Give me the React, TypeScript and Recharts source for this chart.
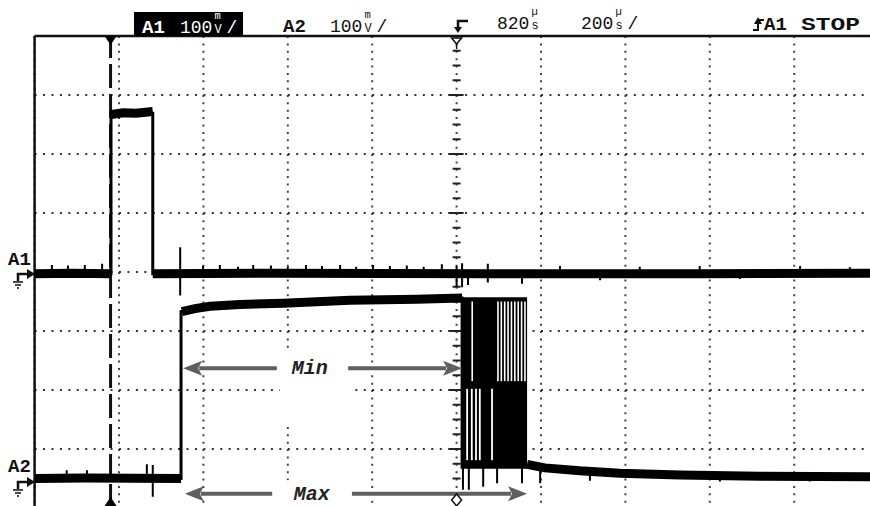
import React from 'react';
import {
  ComposedChart, Line, XAxis, YAxis, CartesianGrid,
  ReferenceLine, ReferenceArea, ReferenceDot, Scatter,
} from 'recharts';

type Pt = [number, number] | null;
type Spike = [number, number, number];

// x: time in µs from the trigger point (200 µs/div); y: mV (100 mV/div)
const X_DOMAIN = [-180, 1820];
const A1_DOMAIN = [-400, 400];
const A2_DOMAIN = [-50, 750];
const GRID_T = [20, 220, 420, 620, 820, 1020, 1220, 1420, 1620];
const GRID_V = [-300, -200, -100, 0, 100, 200, 300];
const TRIGGER_T = 0;
const CENTER_T = 820;
const CENTER_TICKS_V = [-375, -350, -325, -300, -275, -250, -225, -200, -175, -150, -125, -100, -75, -50, -25, 0, 25, 50, 75, 100, 125, 150, 175, 200, 225, 250, 275, 300, 325, 350, 375];

// Channel A1
const A1_TRACE: Pt[] = [[-180, -3], [1, -3], [1, 269], [100, 269], [100, -3], [1820, -3]];
const A1_BAND: Pt[] = [[-180, -3], [-90, -2], [1, -3], null, [1, 267], [30, 270], [60, 269], [100, 272], null, [100, -3], [400, -2], [900, -3], [1400, -3], [1820, -2]];
const A1_SPIKES: Spike[] = [
  [-139, -3, 12], [-101, -3, 11], [-61, -3, 12], [-20, -3, 14],
  [165, -40, 42],
  [219, -3, 10], [259, -3, 12], [302, -3, 9], [338, -3, 12], [380, -3, 11], [420, -3, 9], [463, -3, 12], [501, -3, 10],
  [544, -3, 12], [582, -3, 9], [622, -3, 12], [662, -3, 10], [702, -3, 11], [742, -3, 9], [785, -3, 13],
  [820, -25, 10], [833, -26, 15], [847, -22, -3], [894, -18, 14], [975, -20, -3],
  [1065, -3, 10], [1160, -14, -3], [1254, -3, 9], [1396, -3, 10], [1491, -12, -3], [1634, -3, 10], [1752, -3, 8],
];

// Channel A2
const A2_TRACE: Pt[] = [[-180, 0], [167, 0], [167, 283], [236, 292], [307, 295], [409, 297], [567, 302], [726, 304], [833, 306], [833, 19], [987, 19], [987, 23], [1029, 18], [1112, 13], [1207, 9], [1349, 6], [1539, 4], [1820, 3]];
const A2_BAND: Pt[] = [[-180, 0], [-60, 1], [167, 0], null, [169, 283], [200, 288], [236, 292], [307, 295], [409, 297], [567, 302], [726, 304], [833, 306], null, [987, 24], [1029, 18], [1112, 13], [1207, 9], [1349, 6], [1539, 4], [1820, 3]];
const A2_SPIKES: Spike[] = [
  [-104, 0, 14], [-56, 0, 14], [86, 0, 24], [100, -31, 23],
  [835, -19, 19], [849, -19, 19], [883, -14, 19], [916, -8, 19],
  [975, -8, 20], [1018, -8, 18], [1136, -4, 13], [1444, -5, 6], [1657, -5, 4],
];

// Burst on A2
const BURST_T = [833, 987];
const BURST_V = [19, 307];
const BURST_UPPER_V = [165, 300];
const BURST_UPPER_GAPS_T = [857, 918, 926, 934, 942, 950, 958, 966, 974, 982];
const BURST_LOWER_V = [31, 152];
const BURST_LOWER_GAPS_T = [845, 856, 866, 875, 904];

// Annotations (A2 scale)
const MIN_ARROW_T = [172, 394, 563, 833];
const MIN_ARROW_V = 187;
const MAX_ARROW_T = [176, 383, 572, 987];
const MAX_ARROW_V = -26;
const LABEL_T = 472;
const LABEL_BOX_T = [401, 574];
const MIN_BOX_V = [89, 214];
const MAX_BOX_V = [-49, -3];

const MONO = '"Liberation Mono", "DejaVu Sans Mono", monospace';
const ARROW_GRAY = '#5f5f5f';

const rows = (pts: Pt[]) => {
  let lastT = 0;
  return pts.map((p) => {
    if (p) { lastT = p[0]; return { t: p[0], v: p[1] }; }
    return { t: lastT, v: null };
  });
};
const spikeRows = (sp: Spike[]) => sp.flatMap(([t, lo, hi]) => [{ t, v: lo }, { t, v: hi }, { t, v: null }]);
const centerTicks = CENTER_TICKS_V.map((v) => ({ t: CENTER_T, v }));

const Arrow = (p: any) => {
  const { x1, y1, x2, y2 } = p;
  const dir = Math.sign(x2 - x1) || 1;
  const hl = 19;
  const hw = 7.5;
  const bx = x2 - dir * hl;
  return (
    <g>
      <line x1={x1} y1={y1} x2={bx + dir * 3} y2={y2} stroke={ARROW_GRAY} strokeWidth={4} />
      <path d={`M${x2},${y2} L${bx},${y2 - hw} L${bx + dir * 4},${y2} L${bx},${y2 + hw} Z`} fill={ARROW_GRAY} />
    </g>
  );
};

const labelShape = (txt: string) => (p: any) => (
  <text x={p.cx} y={p.cy + 6} textAnchor="middle" fontFamily={MONO} fontSize={20} fontWeight="bold" fontStyle="italic" fill="#222">{txt}</text>
);

// A value with a stacked unit (e.g. 100 m/V /) drawn as one text element
const Scale = ({ x, base, value, top, bottom, slash, fill }: any) => {
  const w = value.length * 10.8;
  return (
    <text x={x} y={base} fontSize={18} fill={fill}>
      <tspan>{value}</tspan>
      <tspan x={x + w + 2} y={base - 14} fontSize={10.5}>{top}</tspan>
      <tspan x={x + w + 2} y={base} fontSize={12}>{bottom}</tspan>
      {slash ? <tspan x={x + w + 14} y={base} fontSize={18}>/</tspan> : null}
    </text>
  );
};

const Overlay = () => (
  <svg width={870} height={506} style={{ position: 'absolute', left: 0, top: 0, pointerEvents: 'none' }} fontFamily={MONO}>
    <rect x={134} y={12} width={109} height={24} fill="#000" />
    <text x={142} y={33} fontSize={19} fontWeight="bold" fill="#fff">A1</text>
    <Scale x={180} base={33} value="100" top="m" bottom="V" slash fill="#fff" />

    <text x={283} y={32} fontSize={19} fontWeight="bold" fill="#111">A2</text>
    <Scale x={330} base={32} value="100" top="m" bottom="V" slash fill="#111" />

    <path d="M468,21 H458 V30" stroke="#111" strokeWidth={2.5} fill="none" />
    <path d="M454,27 L462,27 L458,33 Z" fill="#111" />
    <Scale x={497} base={29} value="820" top="µ" bottom="s" fill="#111" />
    <Scale x={581} base={29} value="200" top="µ" bottom="s" slash fill="#111" />

    <path d="M753,30 H758 V20 H764" stroke="#111" strokeWidth={2} fill="none" />
    <path d="M754,24 L762,24 L758,17 Z" fill="#111" />
    <text x={764} y={30} fontSize={19} fontWeight="bold" fill="#111">
      <tspan>A1</tspan>
      <tspan x={801} textLength={59} lengthAdjust="spacingAndGlyphs">STOP</tspan>
    </text>

    <text x={8} y={265} fontSize={19} fontWeight="bold" fill="#111">A1</text>
    <path d="M18,281 V274 H28" stroke="#111" strokeWidth={2.5} fill="none" />
    <path d="M27,269 L35,274 L27,279 Z" fill="#111" />
    <path d="M13,282 H23 M15,285 H21 M17,288 H19" stroke="#111" strokeWidth={1.3} />

    <text x={8} y={472} fontSize={19} fontWeight="bold" fill="#111">A2</text>
    <path d="M18,489 V482 H28" stroke="#111" strokeWidth={2.5} fill="none" />
    <path d="M27,477 L35,482 L27,487 Z" fill="#111" />
    <path d="M13,490 H23 M15,493 H21 M17,496 H19" stroke="#111" strokeWidth={1.3} />
  </svg>
);

export default function App() {
  return (
    <div style={{ position: 'absolute', left: 0, top: 0, width: 870, height: 506, overflow: 'hidden', background: '#fff' }}>
      <ComposedChart width={880} height={510} margin={{ top: 36, right: 1.4, bottom: 2, left: 34.6 }}>
        <XAxis type="number" dataKey="t" domain={X_DOMAIN} ticks={GRID_T} allowDataOverflow hide />
        <YAxis yAxisId="a1" type="number" domain={A1_DOMAIN} ticks={GRID_V} allowDataOverflow hide />
        <YAxis yAxisId="a2" type="number" domain={A2_DOMAIN} allowDataOverflow hide />

        <CartesianGrid yAxisId="a1" horizontal={false} stroke="#444" strokeWidth={2} strokeDasharray="2 5.375" zIndex={-100} />
        <CartesianGrid yAxisId="a1" vertical={false} stroke="#333" strokeWidth={2} strokeDasharray="2 6.44" zIndex={-100} />

        <ReferenceArea yAxisId="a2" x1={LABEL_BOX_T[0]} x2={LABEL_BOX_T[1]} y1={MIN_BOX_V[0]} y2={MIN_BOX_V[1]} fill="#fff" fillOpacity={1} stroke="none" zIndex={-60} />
        <ReferenceArea yAxisId="a2" x1={LABEL_BOX_T[0]} x2={LABEL_BOX_T[1]} y1={MAX_BOX_V[0]} y2={MAX_BOX_V[1]} fill="#fff" fillOpacity={1} stroke="none" ifOverflow="hidden" zIndex={-60} />

        <Scatter yAxisId="a1" data={centerTicks} dataKey="v" isAnimationActive={false} zIndex={-50}
          shape={(p: any) => {
            const major = p.payload && p.payload.v % 100 === 0;
            const h = major ? 7 : 4;
            return <line x1={p.cx - h} y1={p.cy} x2={p.cx + h} y2={p.cy} stroke="#222" strokeWidth={2} />;
          }} />

        <ReferenceLine yAxisId="a1" x={X_DOMAIN[0]} stroke="#111" strokeWidth={2.5} zIndex={-40} />
        <ReferenceLine yAxisId="a1" y={A1_DOMAIN[1]} stroke="#111" strokeWidth={2.5} zIndex={-40} />
        <ReferenceLine yAxisId="a1" x={TRIGGER_T} stroke="#111" strokeWidth={3} strokeDasharray="24 6" zIndex={-40} />

        <ReferenceArea yAxisId="a2" x1={BURST_T[0]} x2={BURST_T[1]} y1={BURST_V[0]} y2={BURST_V[1]} fill="#000" fillOpacity={1} stroke="none" zIndex={350} />

        <Line yAxisId="a2" data={rows(A2_TRACE)} dataKey="v" type="linear" stroke="#000" strokeWidth={3} dot={false} activeDot={false} connectNulls isAnimationActive={false} zIndex={400} />
        <Line yAxisId="a2" data={rows(A2_BAND)} dataKey="v" type="linear" stroke="#000" strokeWidth={9} dot={false} activeDot={false} isAnimationActive={false} zIndex={400} />
        <Line yAxisId="a2" data={spikeRows(A2_SPIKES)} dataKey="v" type="linear" stroke="#000" strokeWidth={2} dot={false} activeDot={false} isAnimationActive={false} zIndex={400} />
        <Line yAxisId="a1" data={rows(A1_TRACE)} dataKey="v" type="linear" stroke="#000" strokeWidth={3} dot={false} activeDot={false} connectNulls isAnimationActive={false} zIndex={400} />
        <Line yAxisId="a1" data={rows(A1_BAND)} dataKey="v" type="linear" stroke="#000" strokeWidth={9} dot={false} activeDot={false} isAnimationActive={false} zIndex={400} />
        <Line yAxisId="a1" data={spikeRows(A1_SPIKES)} dataKey="v" type="linear" stroke="#000" strokeWidth={2} dot={false} activeDot={false} isAnimationActive={false} zIndex={400} />

        {BURST_UPPER_GAPS_T.map((t) => (
          <ReferenceLine key={'u' + t} yAxisId="a2" segment={[{ x: t, y: BURST_UPPER_V[0] }, { x: t, y: BURST_UPPER_V[1] }]} stroke="#fff" strokeWidth={1.6} zIndex={450} />
        ))}
        {BURST_LOWER_GAPS_T.map((t) => (
          <ReferenceLine key={'l' + t} yAxisId="a2" segment={[{ x: t, y: BURST_LOWER_V[0] }, { x: t, y: BURST_LOWER_V[1] }]} stroke="#fff" strokeWidth={1.8} zIndex={450} />
        ))}

        <ReferenceLine yAxisId="a2" segment={[{ x: MIN_ARROW_T[1], y: MIN_ARROW_V }, { x: MIN_ARROW_T[0], y: MIN_ARROW_V }]} shape={Arrow} zIndex={500} />
        <ReferenceLine yAxisId="a2" segment={[{ x: MIN_ARROW_T[2], y: MIN_ARROW_V }, { x: MIN_ARROW_T[3], y: MIN_ARROW_V }]} shape={Arrow} zIndex={500} />
        <ReferenceLine yAxisId="a2" segment={[{ x: MAX_ARROW_T[1], y: MAX_ARROW_V }, { x: MAX_ARROW_T[0], y: MAX_ARROW_V }]} shape={Arrow} zIndex={500} />
        <ReferenceLine yAxisId="a2" segment={[{ x: MAX_ARROW_T[2], y: MAX_ARROW_V }, { x: MAX_ARROW_T[3], y: MAX_ARROW_V }]} shape={Arrow} zIndex={500} />
        <ReferenceDot yAxisId="a2" x={LABEL_T} y={MIN_ARROW_V} r={0} shape={labelShape('Min')} zIndex={600} />
        <ReferenceDot yAxisId="a2" x={LABEL_T + 5} y={MAX_ARROW_V} r={0} shape={labelShape('Max')} zIndex={600} />

        <ReferenceDot yAxisId="a1" x={TRIGGER_T} y={A1_DOMAIN[1]} r={0} ifOverflow="visible" zIndex={700}
          shape={(p: any) => <path d={`M${p.cx - 6},${p.cy} L${p.cx + 6},${p.cy} L${p.cx},${p.cy + 9} Z`} fill="#000" />} />
        <ReferenceDot yAxisId="a1" x={TRIGGER_T} y={A1_DOMAIN[0]} r={0} ifOverflow="visible" zIndex={700}
          shape={(p: any) => <path d={`M${p.cx - 6},${p.cy - 2} L${p.cx + 6},${p.cy - 2} L${p.cx},${p.cy - 11} Z`} fill="#000" />} />
        <ReferenceDot yAxisId="a1" x={CENTER_T} y={A1_DOMAIN[1]} r={0} ifOverflow="visible" zIndex={700}
          shape={(p: any) => (
            <g>
              <path d={`M${p.cx - 5},${p.cy + 2} L${p.cx + 5},${p.cy + 2} L${p.cx},${p.cy + 8} Z`} fill="#fff" stroke="#111" strokeWidth={1.5} />
              <line x1={p.cx} y1={p.cy + 8} x2={p.cx} y2={p.cy + 13} stroke="#111" strokeWidth={1.5} />
            </g>
          )} />
        <ReferenceDot yAxisId="a1" x={CENTER_T} y={A1_DOMAIN[0]} r={0} ifOverflow="visible" zIndex={700}
          shape={(p: any) => <path d={`M${p.cx},${p.cy - 14} L${p.cx + 5},${p.cy - 8} L${p.cx},${p.cy - 2} L${p.cx - 5},${p.cy - 8} Z`} fill="#fff" stroke="#111" strokeWidth={1.5} />} />
      </ComposedChart>
      <Overlay />
    </div>
  );
}
